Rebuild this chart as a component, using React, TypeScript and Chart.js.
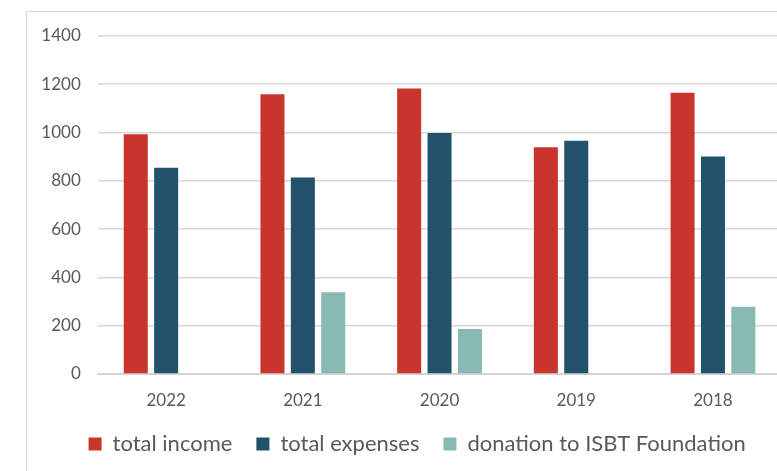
import React, { useEffect, useRef } from "react";
import { Chart, registerables } from "chart.js";

Chart.register(...registerables);

const categories = ["2022", "2021", "2020", "2019", "2018"];
const totalIncome = [992, 1158, 1182, 939, 1164];
const totalExpenses = [854, 813, 998, 966, 900];
const donation = [null, 338, 186, null, 278];
const yTicks = [0, 200, 400, 600, 800, 1000, 1200, 1400];

const FONT = "Lato, 'Open Sans', sans-serif";

const legendShift = {
  id: "legendShift",
  afterLayout(chart: any) {
    const lg = chart.legend;
    if (lg) {
      lg.left += 13;
      lg.right += 13;
    }
  },
};

export default function App() {
  const ref = useRef<HTMLCanvasElement | null>(null);

  useEffect(() => {
    if (!ref.current) return;
    const chart = new Chart(ref.current, {
      type: "bar",
      data: {
        labels: categories,
        datasets: [
          { label: "total income", data: totalIncome, backgroundColor: "#C9352D" },
          { label: "total expenses", data: totalExpenses, backgroundColor: "#22516C" },
          { label: "donation to ISBT Foundation", data: donation as any, backgroundColor: "#88B9B3" },
        ],
      },
      options: {
        animation: false,
        responsive: false,
        maintainAspectRatio: false,
        datasets: {
          bar: { categoryPercentage: 0.667, barPercentage: 0.79 },
        } as any,
        layout: { padding: { top: 23.8, right: 31.7, left: 0, bottom: 6 } },
        plugins: {
          tooltip: { enabled: false },
          legend: {
            position: "bottom",
            labels: {
              boxWidth: 13,
              boxHeight: 13,
              padding: 24,
              color: "#595959",
              font: { family: FONT, size: 22 },
            },
          },
        },
        scales: {
          x: {
            grid: { display: false, drawTicks: false },
            border: { display: true, color: "#d4d4d4", width: 2 },
            ticks: {
              color: "#595959",
              font: { family: FONT, size: 17 },
              padding: 16,
              maxRotation: 0,
            },
            afterFit: (s: any) => {
              s.height = 35;
            },
          },
          y: {
            min: 0,
            max: 1400,
            afterBuildTicks: (s: any) => {
              s.ticks = yTicks.map((v) => ({ value: v }));
            },
            grid: {
              color: "#d9d9d9",
              lineWidth: 1.5,
              drawTicks: true,
              tickLength: 17,
              tickColor: "rgba(0,0,0,0)",
            },
            border: { display: false },
            ticks: {
              color: "#595959",
              font: { family: FONT, size: 17 },
              padding: 0,
              callback: (v: any) => String(v),
            },
            afterFit: (s: any) => {
              s.width = 70.8;
            },
          },
        },
      },
      plugins: [legendShift],
    });
    return () => chart.destroy();
  }, []);

  return (
    <div
      style={{
        position: "fixed",
        left: 0,
        top: 0,
        width: 777,
        height: 471,
        overflow: "hidden",
        background: "#ffffff",
      }}
    >
      <div
        style={{
          position: "absolute",
          left: 26,
          top: 11,
          width: 800,
          height: 470,
          border: "1px solid #d9d9d9",
          background: "#ffffff",
        }}
      >
        <canvas
          ref={ref}
          width={786}
          height={459}
          style={{ position: "absolute", left: 0, top: 0, width: 786, height: 459 }}
        />
      </div>
    </div>
  );
}
